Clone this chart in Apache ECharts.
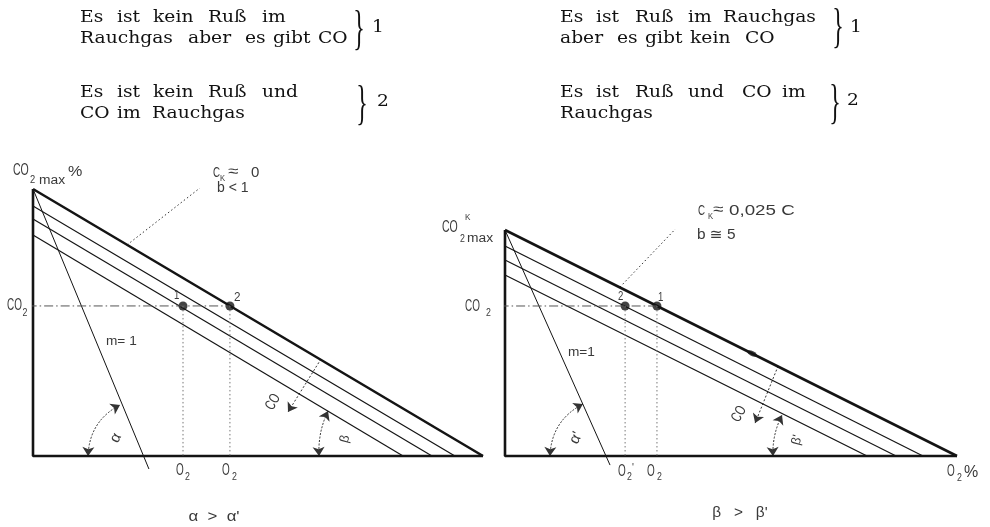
<!DOCTYPE html>
<html>
<head>
<meta charset="utf-8">
<script src="https://cdn.jsdelivr.net/npm/echarts@6/dist/echarts.min.js"></script>
<style>
  html, body { margin: 0; padding: 0; background: #fff; }
  #chart { width: 990px; height: 527px; }
</style>
</head>
<body>
<div id="chart"></div>
<script>
// ---------------- data ----------------
// Left panel: flue gas without soot (C_K ≈ 0, b < 1)
const leftCO2max = 15;                          // CO2max %
const leftO2max = 21;                           // O2 % where CO2 = 0
const leftCOLineCO2 = [14.04, 13.31, 12.42];    // CO2 intercepts of the CO lines
const leftCOLineO2 = [19.69, 18.62, 17.27];     // O2 intercepts of the CO lines
const leftCO2 = 8.43;                           // measured CO2
const leftPointO2 = [7.0, 9.19];                // O2 of point 1 and point 2
const leftM1 = [[0, 15], [5.41, -0.73]];        // line m = 1
const leftAlphaArc = [[2.57, 0], [4.06, 2.87]];
const leftBetaArc = [[13.35, 0], [13.77, 2.53]];
const leftCOArrow = [[13.44, 5.45], [11.9, 2.47]];
const leftLeader = [[4.39, 11.86], [8.26, 15.5]];

// Right panel: flue gas with soot (C_K ≈ 0,025 C, b ≅ 5)
const rightCO2max = 12.7;                       // CO2max^K %
const rightO2max = 21;
const rightCOLineCO2 = [11.8, 11.01, 10.17];
const rightCOLineO2 = [19.42, 18.17, 16.82];
const rightCO2 = 8.43;
const rightPointO2 = [7.06, 5.58];              // O2 of point 1 and point 2
const rightM1 = [[0, 12.7], [4.88, -0.51]];
const rightAlphaArc = [[2.09, 0], [3.62, 2.92]];
const rightBetaArc = [[12.45, 0], [12.87, 2.30]];
const rightCOArrow = [[12.69, 5.06], [11.62, 1.85]];
const rightLeader = [[5.34, 9.49], [8.74, 13.8]];
const rightMarker = [11.48, 5.76];

// Heading text
const headLeft = [
  ['Es ist kein Ruß im', 'Rauchgas aber es gibt CO'],
  ['Es ist kein Ruß und', 'CO im Rauchgas']
];
const headRight = [
  ['Es ist Ruß im Rauchgas', 'aber es gibt kein CO'],
  ['Es ist Ruß und CO im', 'Rauchgas']
];
const headNumbers = ['1', '2'];

// ---------------- styles ----------------
const INK = '#141414';
const GREY = '#555';
const LABEL = '#3a3a3a';
const SANS = '"Liberation Sans", "DejaVu Sans", sans-serif';
const SERIF = '"DejaVu Serif", "Liberation Serif", serif';

function line(gi, pts, width, extra) {
  return Object.assign({
    type: 'line', xAxisIndex: gi, yAxisIndex: gi, data: pts,
    showSymbol: false, symbol: 'none', clip: false, silent: true,
    lineStyle: { color: INK, width: width }
  }, extra || {});
}

function arrowLines(gi, pairs, curveness, symbols, dash) {
  return {
    type: 'lines', coordinateSystem: 'cartesian2d', xAxisIndex: gi, yAxisIndex: gi,
    silent: true, symbol: symbols, symbolSize: 9,
    data: pairs.map(p => ({ coords: p })),
    lineStyle: { color: '#333', width: 1, type: dash, curveness: curveness, opacity: 1 },
    itemStyle: { color: '#111' }
  };
}

function panel(gi, co2max, o2max, coCO2, coO2, co2, pointsO2, m1, alphaArc, betaArc, coArrow, leader) {
  const s = [];
  // axes of the diagram
  s.push(line(gi, [[0, co2max], [0, 0], [o2max, 0]], 2.6));
  // CO2max line (no CO)
  s.push(line(gi, [[0, co2max], [o2max, 0]], 2.6));
  // lines of constant CO
  coCO2.forEach((c, i) => s.push(line(gi, [[0, c], [coO2[i], 0]], 1.2)));
  // m = 1
  s.push(line(gi, m1, 1.0));
  // measured CO2 level
  const farO2 = Math.max.apply(null, pointsO2);
  s.push(line(gi, [[-0.25, co2], [farO2, co2]], 1, {
    lineStyle: { color: GREY, width: 1, type: [9, 3, 1.5, 3] }
  }));
  // projections onto the O2 axis
  pointsO2.forEach(o => s.push(line(gi, [[o, co2], [o, 0]], 1, {
    lineStyle: { color: '#777', width: 1, type: [1.5, 2.5] }
  })));
  // the two operating points
  s.push({
    type: 'scatter', xAxisIndex: gi, yAxisIndex: gi, silent: true,
    symbol: 'circle', symbolSize: 9, itemStyle: { color: INK },
    data: pointsO2.map(o => [o, co2])
  });
  // angle arcs with arrows
  s.push(arrowLines(gi, [alphaArc], 0.29, ['arrow', 'arrow'], [2, 1.5]));
  s.push(arrowLines(gi, [betaArc], 0.13, ['arrow', 'arrow'], [2, 1.5]));
  // CO direction
  s.push(arrowLines(gi, [coArrow], 0, ['none', 'arrow'], [2, 2]));
  // leader to the CO2max line annotation
  s.push(arrowLines(gi, [leader], 0, ['none', 'none'], [1.5, 2.5]));
  return s;
}

const series = []
  .concat(panel(0, leftCO2max, leftO2max, leftCOLineCO2, leftCOLineO2, leftCO2, leftPointO2,
    leftM1, leftAlphaArc, leftBetaArc, leftCOArrow, leftLeader))
  .concat(panel(1, rightCO2max, rightO2max, rightCOLineCO2, rightCOLineO2, rightCO2, rightPointO2,
    rightM1, rightAlphaArc, rightBetaArc, rightCOArrow, rightLeader));

// marker on the CO2max^K line
series.push({
  type: 'scatter', xAxisIndex: 1, yAxisIndex: 1, silent: true,
  symbol: 'circle', symbolSize: [11, 5], symbolRotate: -26.6,
  itemStyle: { color: INK }, data: [rightMarker]
});

// ---------------- text ----------------
function T(text, x, y, size, sx, rot, align, family, fill) {
  return {
    type: 'text', x: x, y: y, scaleX: sx || 1, rotation: (rot || 0) * Math.PI / 180,
    silent: true, z: 10,
    style: {
      text: text, fontSize: size, fontFamily: family || SANS, fill: fill || LABEL,
      align: align || 'left', verticalAlign: 'middle'
    }
  };
}

const graphic = [];

// heading: each line is laid out word by word
const headWordX = {
  L: [[[80, 117, 153, 208, 262], [80, 188, 245, 273, 318]],
      [[80, 117, 153, 208, 262], [80, 117, 152]]],
  R: [[[560, 596, 635, 688, 723], [560, 617, 645, 690, 745]],
      [[560, 596, 635, 688, 742, 782], [560]]]
};
const headLineY = [[17.5, 38.5], [92.5, 113.5]];
function heading(blocks, xs) {
  blocks.forEach((blk, b) => blk.forEach((ln, l) => {
    ln.split(' ').forEach((w, k) => {
      graphic.push(T(w, xs[b][l][k], headLineY[b][l], 17, 1.1, 0, 'left', SERIF, '#111'));
    });
  }));
}
heading(headLeft, headWordX.L);
heading(headRight, headWordX.R);

// braces and their numbers
[[359, 31, 372, 28], [362, 106, 377, 102]].forEach((p, i) => {
  graphic.push(T('}', p[0], p[1], 48, 0.5, 0, 'center', '"Liberation Serif", serif', '#111'));
  graphic.push(T(headNumbers[i], p[2], p[3], 17, 1.1, 0, 'left', SERIF, '#111'));
});
[[838, 29, 850, 28], [835, 105, 847, 101]].forEach((p, i) => {
  graphic.push(T('}', p[0], p[1], 48, 0.5, 0, 'center', '"Liberation Serif", serif', '#111'));
  graphic.push(T(headNumbers[i], p[2], p[3], 17, 1.1, 0, 'left', SERIF, '#111'));
});

// left diagram labels
graphic.push(
  T('CO', 13, 170.5, 17, 0.62), T('2', 30, 180, 11, 0.85), T('max', 39, 181, 12, 1.15),
  T('%', 68, 172, 14, 1.15),
  T('CO', 7, 306, 16, 0.62), T('2', 22.5, 312.5, 11, 0.8),
  T('C', 213, 172.5, 15, 0.65), T('K', 220, 179, 9, 0.85), T('≈', 228, 171.5, 15, 1.25),
  T('0', 251, 172.5, 15, 1.0),
  T('b < 1', 217, 188.5, 14, 1.0),
  T('1', 174, 296, 12, 0.8), T('2', 234, 297.5, 13, 0.9),
  T('m= 1', 106, 341, 13, 1.05),
  T('α', 116, 438, 15, 1, 62, 'center'),
  T('O', 176, 471, 16, 0.62), T('2', 185, 477, 11, 0.8),
  T('O', 222, 471, 16, 0.62), T('2', 232, 477, 11, 0.8),
  T('CO', 273, 402, 15, 0.7, 60, 'center'),
  T('β', 345, 439, 13, 1, 75, 'center'),
  T('α  >  α\'', 214, 517, 14, 1.2, 0, 'center')
);

// right diagram labels
graphic.push(
  T('CO', 442, 227.5, 17, 0.62), T('K', 465, 218, 9, 0.9), T('2', 460, 239, 11, 0.8),
  T('max', 467, 239, 12, 1.15),
  T('CO', 465, 306.5, 16, 0.62), T('2', 486, 313, 11, 0.8),
  T('C', 698, 211, 15, 0.65), T('K', 708, 216.5, 9, 0.85), T('≈', 713, 210, 15, 1.25),
  T('0,025 C', 729, 211, 15, 1.25),
  T('b ≅ 5', 697, 235, 14, 1.1),
  T('2', 618, 297, 12, 0.8), T('1', 658, 297.5, 12, 0.8),
  T('m=1', 568, 352, 13, 1.05),
  T('α\'', 576, 438, 15, 1, 62, 'center'),
  T('O', 618, 471.5, 16, 0.62), T('2', 627, 477, 11, 0.8), T('\'', 632, 468, 10, 1),
  T('O', 647, 471.5, 16, 0.62), T('2', 657, 477, 11, 0.8),
  T('CO', 739, 414, 15, 0.7, 60, 'center'),
  T('β\'', 797, 440, 13, 1, 75, 'center'),
  T('O', 947, 471.5, 16, 0.62), T('2', 957, 477.5, 11, 0.8), T('%', 964, 472.5, 16, 1),
  T('β   >   β\'', 740, 513, 14, 1.1, 0, 'center')
);

// ---------------- chart ----------------
const chart = echarts.init(document.getElementById('chart'), null, { renderer: 'canvas' });
chart.setOption({
  animation: false,
  backgroundColor: '#fff',
  grid: [
    { left: 33, top: 189, width: 450, height: 267 },
    { left: 505, top: 230, width: 452, height: 226 }
  ],
  xAxis: [
    { gridIndex: 0, type: 'value', min: 0, max: leftO2max, show: false },
    { gridIndex: 1, type: 'value', min: 0, max: rightO2max, show: false }
  ],
  yAxis: [
    { gridIndex: 0, type: 'value', min: 0, max: leftCO2max, show: false },
    { gridIndex: 1, type: 'value', min: 0, max: rightCO2max, show: false }
  ],
  series: series,
  graphic: graphic
});
</script>
</body>
</html>
